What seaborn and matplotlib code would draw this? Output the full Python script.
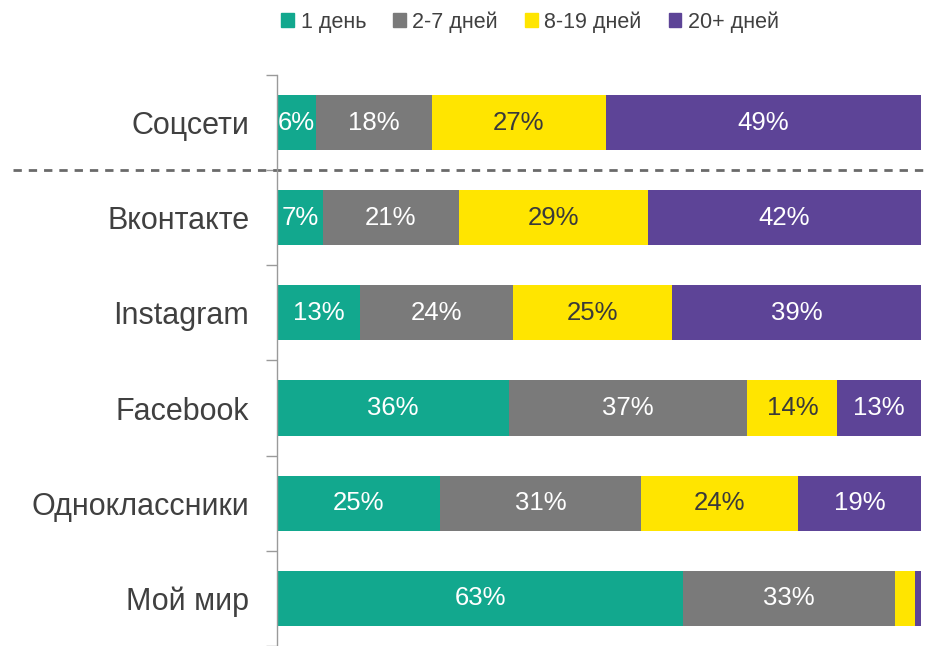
import numpy as np
import matplotlib
matplotlib.use('Agg')
import matplotlib.pyplot as plt
import matplotlib.patches as mpatches
import seaborn as sns

categories = ['Соцсети', 'Вконтакте', 'Instagram', 'Facebook', 'Одноклассники', 'Мой мир']
series = ['1 день', '2-7 дней', '8-19 дней', '20+ дней']
day1 = [6, 7, 13, 36, 25, 63]
days2_7 = [18, 21, 24, 37, 31, 33]
days8_19 = [27, 29, 25, 14, 24, 3]
days20 = [49, 42, 39, 13, 19, 1]
colors = ['#12A88E', '#7A7A7A', '#FFE500', '#5D4497']
label_colors = ['white', 'white', '#3a3a3a', 'white']

sns.set_theme(style='white')
plt.rcParams['font.family'] = ['Liberation Sans', 'DejaVu Sans']

values = np.array([day1, days2_7, days8_19, days20], dtype=float)
shares = values / values.sum(axis=0) * 100  # 100% stacked
cum = np.cumsum(shares, axis=0)

fig = plt.figure(figsize=(9.3, 6.46), dpi=100)
ax = fig.add_axes([0.298, 0.0, 0.6925, 0.884])

# draw from the longest cumulative bar to the shortest so they stack
for i in range(3, -1, -1):
    sns.barplot(x=cum[i], y=categories, color=colors[i], orient='h',
                width=0.58, saturation=1, ax=ax, edgecolor='none')

for i in range(4):
    for j in range(len(categories)):
        v = values[i, j]
        if v < 5:
            continue
        xc = cum[i, j] - shares[i, j] / 2
        ax.text(xc, j, f'{int(v)}%', ha='center', va='center',
                color=label_colors[i], fontsize=18.5)

ax.set_xlim(0, 100)
ax.set_ylim(len(categories) - 0.5, -0.5)
ax.set_xlabel('')
ax.set_ylabel('')
ax.set_xticks([])
for s in ['top', 'right', 'bottom']:
    ax.spines[s].set_visible(False)
ax.spines['left'].set_color('#9a9a9a')
ax.spines['left'].set_linewidth(1.0)

ax.set_yticks(np.arange(len(categories)))
ax.set_yticks(np.arange(len(categories) + 1) - 0.5, minor=True)
ax.tick_params(axis='y', which='major', length=0, pad=20, labelsize=22, labelcolor='#404040')
ax.tick_params(axis='y', which='minor', left=True, length=8, width=1, color='#9a9a9a', direction='out')

# dashed separator below the aggregate row
ax.plot([-0.41, 1.02], [0.5, 0.5], transform=ax.get_yaxis_transform(),
        color='#6a6a6a', lw=2, ls=(0, (3, 2.5)), clip_on=False)

handles = [mpatches.Patch(color=c, label=s) for c, s in zip(colors, series)]
fig.legend(handles=handles, loc='center', bbox_to_anchor=(0.57, 0.966), ncol=4,
           frameon=False, fontsize=15.5, handlelength=0.6, handleheight=0.6,
           handletextpad=0.3, columnspacing=1.25, labelcolor='#404040')

fig.savefig('out.png', dpi=100)
